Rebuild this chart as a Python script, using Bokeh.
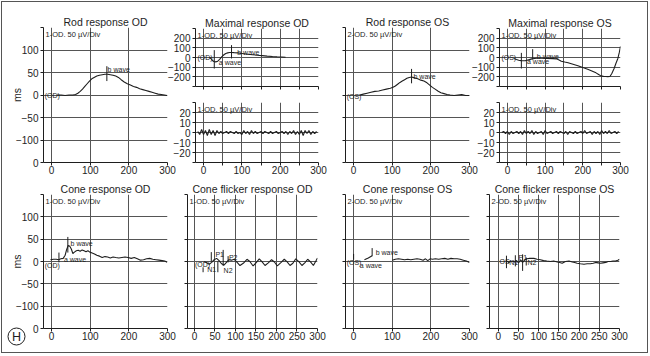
from bokeh.plotting import figure
from bokeh.layouts import row, column
from bokeh.models import Range1d, FixedTicker, Label
from bokeh.core.properties import value
from bokeh.embed import file_html
from bokeh.resources import INLINE

FONT = "Liberation Sans"
INK = "#1e1e1e"
GRID = "#555555"

# ---------------- data ----------------
# Rod response OD
rod_od_t = [14, 25, 35, 45, 55, 62, 68, 74, 80, 86, 92, 98, 104, 110, 117, 124, 131, 138, 145, 152,
            159, 166, 173, 180, 188, 196, 204, 212, 220, 228, 236, 244, 252, 260, 268, 276, 284, 292, 299]
rod_od_v = [0, 0, -1, 0, 0, 1, 4, 8, 13, 19, 25, 31, 36, 39, 42, 44, 45, 46, 46, 45,
            44, 42, 39, 34, 29, 25, 22, 19, 17, 14, 12, 10, 8, 6, 4, 2, 1, 0, -1]
rod_od_mk = dict(x=[143], y0=[31], y1=[64])
rod_od_lbl = dict(x=[145, -18], y=[57, 0], text=["b wave", "(OD)"])

# Rod response OS
rod_os_t = [16, 25, 35, 45, 55, 65, 75, 85, 95, 102, 108, 114, 120, 126, 132, 138, 144, 150, 158, 166,
            174, 182, 190, 197, 204, 211, 218, 226, 234, 242, 250, 260, 270, 280, 290, 300]
rod_os_v = [0, 2, 4, 6, 8, 9, 11, 13, 15, 17, 20, 24, 28, 31, 34, 37, 39, 40, 38, 36,
            33, 31, 27, 22, 17, 13, 9, 5, 3, 1, 0, -1, 0, 1, -1, -1]
rod_os_mk = dict(x=[150], y0=[26], y1=[58])
rod_os_lbl = dict(x=[155, -18], y=[42, -3], text=["b wave", "(OS)"])

# Maximal response OD (upper trace)
max_od_t = [16, 20, 24, 27, 30, 34, 37, 42, 46, 50, 54, 58, 63, 68, 73, 80, 89, 100, 115, 128,
            140, 153, 166, 180, 192, 204, 214]
max_od_v = [0, -15, -34, -42, -45, -43, -38, -20, 0, 16, 31, 42, 48, 51, 52, 50, 48, 42, 34, 29,
            24, 19, 14, 10, 7, 5, 3]
max_od_mk = dict(x=[28, 73], y0=[-114, -10], y1=[76, 128])
max_od_lbl = dict(x=[88, 40, -16], y=[50, -52, 0], text=["b wave", "a wave", "(OD)"])

# Maximal response OS (upper trace)
max_os_t = [17, 24, 30, 36, 43, 48, 52, 58, 65, 72, 78, 90, 105, 120, 130, 137, 143, 152, 161, 174,
            187, 200, 213, 224, 235, 242, 248, 255, 261, 266, 272, 277, 283, 288, 293, 297, 300]
max_os_v = [-10, -20, -28, -32, -34, -32, -28, -22, -14, -10, -7, -8, -10, -12, -14, -25, -38, -47, -55, -70,
            -86, -103, -121, -140, -159, -175, -190, -195, -197, -198, -197, -165, -114, -60, -10, 55, 115]
max_os_mk = dict(x=[37, 67], y0=[-114, -21], y1=[48, 86])
max_os_lbl = dict(x=[78, 52, -16], y=[14, -38, 0], text=["b wave", "a wave", "(OS)"])

# Oscillatory (lower) traces of the maximal responses
osc_t = [-15, -10, -5, 0, 5, 10, 15, 20, 25, 30, 35, 40, 45, 50, 55, 60, 65, 70, 75, 80,
         85, 90, 95, 100, 105, 110, 115, 120, 125, 130, 135, 140, 145, 150, 155, 160, 165, 170, 175, 180,
         185, 190, 195, 200, 205, 210, 215, 220, 225, 230, 235, 240, 245, 250, 255, 260, 265, 270, 275, 280,
         285, 290, 295]
osc_od_v = [1, -2, 3, -2, 2, -3, 3, -2, 2, -3, 2, -1, 1, -1, 0, 1, -1, 1, 0, -1,
            1, -1, 0, -2, 2, -1, 1, -2, 2, -1, 1, -1, 0, 1, -1, 1, 0, -1, 1, -1,
            0, 1, -1, 0, 1, -1, 1, -2, 1, -1, 2, -2, 1, -2, 2, -3, 2, -1, 2, -2,
            1, -1, 1]
osc_os_v = [0, 1, -1, 1, -2, 1, -1, 0, 1, -1, 1, -2, 2, -1, 1, -1, 2, -2, 1, -1,
            0, 1, -2, 2, -1, 0, 1, -1, 0, 1, -1, 1, 0, -1, 1, -2, 1, 0, -1, 1,
            -1, 0, 1, -1, 2, -1, 0, 1, -2, 1, -1, 1, -2, 2, -1, 1, -1, 2, -1, 0,
            1, -1, 1]

# Cone response OD
cone_od_t = [-3, 5, 12, 18, 24, 30, 35, 39, 43, 47, 51, 55, 59, 64, 69, 74, 79, 84, 89, 94,
             99, 105, 111, 117, 124, 131, 138, 145, 152, 159, 166, 174, 182, 190, 198, 206, 214, 222, 230, 238,
             246, 254, 262, 270, 278, 286, 293, 299]
cone_od_v = [4, 5, 5, 4, 6, 7, 14, 27, 36, 34, 28, 18, 21, 24, 25, 23, 26, 24, 22, 24,
             21, 19, 17, 14, 12, 9, 11, 10, 8, 10, 9, 8, 9, 10, 9, 7, 9, 6, 3, 4,
             6, 7, 5, 4, 3, 2, 1, -2]
cone_od_mk = dict(x=[19, 42], y0=[-2, 20], y1=[20, 55])
cone_od_lbl = dict(x=[49, 32, -18], y=[40, 5, -10], text=["b wave", "a wave", "(OD)"])

# Cone response OS
cone_os_pre_t = [28, 38, 48]
cone_os_pre_v = [4, 8, 13]
cone_os_t = [100, 108, 116, 124, 132, 140, 148, 156, 164, 172, 180, 186, 192, 198, 204, 212, 220, 228, 236, 244,
             252, 260, 268, 276, 284, 292, 300]
cone_os_v = [3, 5, 6, 5, 4, 5, 4, 5, 6, 5, 3, 6, 2, 6, 5, 6, 5, 6, 7, 5,
             7, 6, 6, 5, 3, 1, -2]
cone_os_mk = dict(x=[0, 48], y0=[4, 12], y1=[17, 30])
cone_os_lbl = dict(x=[57, 16, -18], y=[21, -9, -2], text=["b wave", "a wave", "(OS)"])

# Cone flicker response OD
flk_od_t = [24, 30, 36, 42, 48, 54, 60, 66, 72, 78, 84, 90, 97, 104, 111, 119, 128, 135, 143, 150,
            158, 165, 172, 180, 188, 195, 202, 210, 219, 226, 233, 240, 247, 255, 262, 269, 276, 283, 290, 296, 300]
flk_od_v = [0, -3, -6, -2, 4, 7, 2, -5, -8, -2, 4, 3, 5, -2, -9, -4, 5, 0, -10, -3,
            6, -1, -9, -3, 4, -1, -10, -3, 5, -1, -9, -4, 6, -1, -9, -3, 5, -1, -9, 1, 8]
flk_od_mk = dict(x=[21, 41, 57, 70, 82], y0=[-24, 0, -24, -10, -2], y1=[-13, 21, 0, 26, 12])
flk_od_lbl = dict(x=[1, 51, 31, 84, 71], y=[-6, 16, -17, 9, -21], text=["(OD)", "P1", "N1", "P2", "N2"])

# Cone flicker response OS
flk_os_t = [20, 25, 30, 35, 40, 45, 50, 55, 60, 65, 70, 78, 88, 96, 104, 112, 120, 129, 137, 146,
            152, 158, 166, 175, 183, 189, 195, 203, 212, 220, 228, 235, 241, 247, 253, 259, 266, 272, 278, 284,
            290, 296, 300]
flk_os_v = [2, -2, 0, 1, -1, 2, -3, 4, -2, 3, 6, 7, 7, 5, 4, 2, 1, 0, 1, -1,
            -2, -4, 0, 1, -1, -2, -4, -5, -6, -5, -5, -4, -2, -3, -4, -3, -2, 0, 0, 1,
            1, 3, 5]
flk_os_mk = dict(x=[20, 42, 60, 69], y0=[-15, -11, -21, -9], y1=[13, 14, 16, 9])
flk_os_lbl = dict(x=[3, 27, 50, 72], y=[0, -2, 8, -2], text=["OS", "N1", "P1", "N2"])

# axes
t100 = [0, 100, 200, 300]
t100_lbl = ["0", "100", "200", "300"]
t50 = [0, 50, 100, 150, 200, 250, 300]
t50_lbl = ["0", "50", "100", "150", "200", "250", "300"]
t50_sparse_lbl = ["0", "", "100", "", "200", "", "300"]
ms_ticks = [-150, -100, -50, 0, 50, 100, 150]
ms_lbl = ["0", "\u2212100", "\u221250", "0", "50", "100", ""]
max_ticks = [-300, -200, -100, 0, 100, 200, 300]
max_lbl = ["", "\u2212200", "\u2212100", "0", "100", "200", ""]
osc_ticks = [-30, -20, -10, 0, 10, 20, 30]
osc_lbl = ["", "\u221220", "\u221210", "0", "10", "20", ""]
note_1 = "1-OD. 50 \u00b5V/Div"
note_2 = "2-OD. 50 \u00b5V/Div"
panel_tag = "H"


def make_panel(w, h, mb, xr, yr, xticks, xlabels, yticks, ylabels, xgrid, ygrid, title=None):
    l, r, t, b = mb
    p = figure(width=w, height=h, x_range=Range1d(*xr), y_range=Range1d(*yr),
               output_backend="svg", toolbar_location=None,
               min_border_left=l, min_border_right=r, min_border_top=t, min_border_bottom=b,
               title=title)
    p.background_fill_color = None
    p.border_fill_color = None
    p.outline_line_color = None
    if title:
        p.title.text_font = FONT
        p.title.text_font_size = "10.5px"
        p.title.text_font_style = "normal"
        p.title.text_color = INK
        p.title.align = "center"
        p.title.standoff = 0
    for ax, ticks, labels in ((p.xaxis[0], xticks, xlabels), (p.yaxis[0], yticks, ylabels)):
        ax.ticker = FixedTicker(ticks=ticks)
        ax.major_label_overrides = {k: v for k, v in zip(ticks, labels)}
        ax.axis_line_color = INK
        ax.major_tick_line_color = INK
        ax.minor_tick_line_color = None
        ax.major_tick_out = 3
        ax.major_tick_in = 0
        ax.major_label_text_font = FONT
        ax.major_label_text_font_size = "10px"
        ax.major_label_text_color = INK
    p.xaxis[0].major_label_standoff = 0
    p.yaxis[0].major_label_standoff = 2
    p.xgrid[0].ticker = FixedTicker(ticks=xgrid)
    p.ygrid[0].ticker = FixedTicker(ticks=ygrid)
    for g in (p.xgrid[0], p.ygrid[0]):
        g.grid_line_color = GRID
        g.grid_line_width = 1
    return p


def add_note(p, text, xr, yr):
    p.add_layout(Label(x=xr[0], y=yr[1], text=text, x_offset=2, y_offset=-2,
                       text_font=FONT, text_font_size="7.5px", text_color=INK,
                       text_baseline="top", text_align="left"))


def add_trace(p, t, v):
    p.line(t, v, line_color=INK, line_width=1.1)


def add_marks(p, mk, lbl):
    p.segment(x0=mk["x"], y0=mk["y0"], x1=mk["x"], y1=mk["y1"], line_color=INK, line_width=1)
    p.text(x=lbl["x"], y=lbl["y"], text=lbl["text"], text_font=value(FONT),
           text_font_size=value("7px"), text_color=value(INK), text_align="left", text_baseline="middle")


def add_ms(p):
    p.yaxis[0].axis_label = "ms"
    p.yaxis[0].axis_label_text_font = FONT
    p.yaxis[0].axis_label_text_font_size = "10.5px"
    p.yaxis[0].axis_label_text_font_style = "normal"
    p.yaxis[0].axis_label_text_color = INK
    p.yaxis[0].axis_label_standoff = -10


XR = (-21, 300)
YR = (-150, 150)
grid_y = [-100, -50, 0, 50, 100]
blank7 = [""] * 7

# ---------- row 1 ----------
f1 = make_panel(174, 178, (41, 9, 25, 18), XR, YR, t100, t100_lbl, ms_ticks, ms_lbl,
                t100, grid_y, "Rod response OD")
add_ms(f1)
add_note(f1, note_1, XR, YR)
add_trace(f1, rod_od_t, rod_od_v)
add_marks(f1, rod_od_mk, rod_od_lbl)

f2a = make_panel(168, 100, (29, 14, 26, 16), XR, (-300, 300), t50, blank7, max_ticks, max_lbl,
                 t50, [-200, -100, 0, 100, 200], "Maximal response OD")
add_note(f2a, note_1, XR, (-300, 300))
add_trace(f2a, max_od_t, max_od_v)
add_marks(f2a, max_od_mk, max_od_lbl)
f2b = make_panel(168, 78, (29, 14, 0, 18), XR, (-30, 30), t50, t50_sparse_lbl, osc_ticks, osc_lbl,
                 t50, [-20, -10, 0, 10, 20])
add_note(f2b, note_1, XR, (-30, 30))
add_trace(f2b, osc_t, osc_od_v)
col2 = column(f2a, f2b, margin=(0, 0, 0, -12))

f3 = make_panel(147, 178, (13, 10, 25, 18), XR, YR, t100, t100_lbl, ms_ticks, blank7,
                t100, grid_y, "Rod response OS")
add_note(f3, note_2, XR, YR)
add_trace(f3, rod_os_t, rod_os_v)
add_marks(f3, rod_os_mk, rod_os_lbl)

f4a = make_panel(179, 100, (29, 27, 26, 16), XR, (-300, 300), t50, blank7, max_ticks, max_lbl,
                 t50, [-200, -100, 0, 100, 200], "Maximal response OS")
add_note(f4a, note_1, XR, (-300, 300))
add_trace(f4a, max_os_t, max_os_v)
add_marks(f4a, max_os_mk, max_os_lbl)
f4b = make_panel(179, 78, (29, 27, 0, 18), XR, (-30, 30), t50, t50_sparse_lbl, osc_ticks, osc_lbl,
                 t50, [-20, -10, 0, 10, 20])
add_note(f4b, note_1, XR, (-30, 30))
add_trace(f4b, osc_t, osc_os_v)
col4 = column(f4a, f4b, margin=(0, 0, 0, -11))

row1 = row(f1, col2, f3, col4)

# ---------- row 2 ----------
f5 = make_panel(176, 172, (41, 11, 13, 24), XR, YR, t100, t100_lbl, ms_ticks, ms_lbl,
                t100, grid_y, "Cone response OD")
add_ms(f5)
add_note(f5, note_1, XR, YR)
add_trace(f5, cone_od_t, cone_od_v)
add_marks(f5, cone_od_mk, cone_od_lbl)

XF1 = (-17, 300)
f6 = make_panel(154, 172, (9, 15, 13, 24), XF1, YR, t50, t50_lbl, ms_ticks, blank7,
                [0, 50, 100, 150, 200, 250], grid_y, "Cone flicker response OD")
add_note(f6, note_1, XF1, YR)
add_trace(f6, flk_od_t, flk_od_v)
add_marks(f6, flk_od_mk, flk_od_lbl)

f7 = make_panel(148, 172, (13, 11, 13, 24), XR, YR, t100, t100_lbl, ms_ticks, blank7,
                t100, grid_y, "Cone response OS")
add_note(f7, note_2, XR, YR)
add_trace(f7, cone_os_pre_t, cone_os_pre_v)
add_trace(f7, cone_os_t, cone_os_v)
add_marks(f7, cone_os_mk, cone_os_lbl)

XF2 = (-22, 300)
f8 = make_panel(167, 172, (9, 28, 13, 24), XF2, YR, t50, t50_lbl, ms_ticks, blank7,
                [0, 50, 100, 150, 200, 250], grid_y, "Cone flicker response OS")
add_note(f8, note_2, XF2, YR)
add_trace(f8, flk_os_t, flk_os_v)
add_marks(f8, flk_os_mk, flk_os_lbl)

row2 = row(f5, f6, f7, f8)

# small transparent overlay holding the circled panel letter (bottom-left corner)
fH = figure(width=40, height=40, x_range=Range1d(0, 40), y_range=Range1d(0, 40),
            output_backend="svg", toolbar_location=None, x_axis_type=None, y_axis_type=None,
            min_border_left=0, min_border_right=0, min_border_top=0, min_border_bottom=0,
            margin=(-40, 0, 0, 0), align="start")
fH.background_fill_color = None
fH.border_fill_color = None
fH.outline_line_color = None
fH.grid.visible = False
fH.scatter(x=[14], y=[16], marker="circle", size=17, fill_color=None, line_color=INK, line_width=1)
fH.text(x=[14], y=[16], text=[panel_tag], text_font=value(FONT), text_font_size=value("12.5px"),
        text_color=value(INK), text_align="center", text_baseline="middle")

layout = column(row1, row2, fH, margin=(1, 0, 0, 1), styles={"border": "1px solid #555555"})

open("out.html", "w").write(file_html(layout, INLINE))
